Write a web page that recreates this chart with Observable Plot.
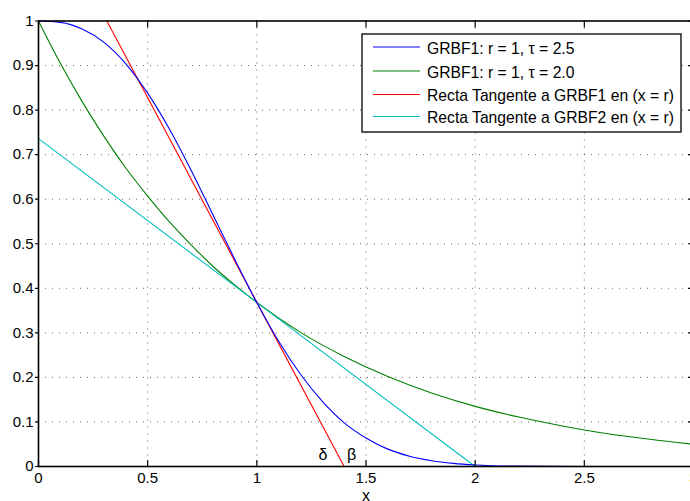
<!DOCTYPE html>
<html>
<head>
<meta charset="utf-8">
<script src="https://cdn.jsdelivr.net/npm/d3@7"></script>
<script src="https://cdn.jsdelivr.net/npm/@observablehq/plot@0.6"></script>
<style>
  html, body { margin: 0; padding: 0; background: #fff; overflow: hidden; }
  #chart { position: relative; width: 690px; height: 501px; overflow: hidden; }
  #chart svg { position: absolute; left: 0; top: 0; }
</style>
</head>
<body>
<div id="chart"></div>
<script>
// GRBF curves, r = 1
const blueX = [0, 0.1, 0.2, 0.3, 0.4, 0.5, 0.6, 0.7, 0.8, 0.9, 1.0, 1.1, 1.2, 1.3, 1.4, 1.5, 1.6, 1.7, 1.8, 1.9, 2.0, 2.2, 2.5, 3.0];
const blueY = [1, 0.997, 0.982, 0.952, 0.904, 0.838, 0.757, 0.664, 0.564, 0.464, 0.368, 0.281, 0.207, 0.146, 0.098, 0.064, 0.039, 0.023, 0.013, 0.007, 0.0035, 0.0008, 0.0001, 0];

const greenX = [0, 0.1, 0.2, 0.3, 0.4, 0.5, 0.6, 0.7, 0.8, 0.9, 1.0, 1.2, 1.4, 1.6, 1.8, 2.0, 2.2, 2.4, 2.6, 2.8, 3.0];
const greenY = [1, 0.905, 0.819, 0.741, 0.670, 0.607, 0.549, 0.497, 0.449, 0.407, 0.368, 0.301, 0.247, 0.202, 0.165, 0.135, 0.111, 0.091, 0.074, 0.061, 0.050];

// tangent lines at x = r
const redX = [0.313, 1.4];
const redY = [1, 0];
const cyanX = [0, 2];
const cyanY = [0.736, 0];

// axis ticks
const xTicks = [0, 0.5, 1, 1.5, 2, 2.5, 3];
const yTicks = [0, 0.1, 0.2, 0.3, 0.4, 0.5, 0.6, 0.7, 0.8, 0.9, 1];

// annotation letters near the x axis
const noteText = ["δ", "β"];
const noteX = [1.303, 1.434];
const noteY = [0.027, 0.027];

const legendLabels = [
  "GRBF1: r = 1, τ = 2.5",
  "GRBF1: r = 1, τ = 2.0",
  "Recta Tangente a GRBF1 en (x = r)",
  "Recta Tangente a GRBF2 en (x = r)"
];
const colors = ["#0000ff", "#008000", "#ff0000", "#00bfbf"];

const toPts = (xs, ys) => xs.map((x, i) => ({x, y: ys[i]}));
const blue = toPts(blueX, blueY);
const green = toPts(greenX, greenY);
const red = toPts(redX, redY);
const cyan = toPts(cyanX, cyanY);
const notes = noteText.map((t, i) => ({t, x: noteX[i], y: noteY[i]}));

const font = "'Liberation Sans', Arial, Helvetica, sans-serif";
const tickShape = { draw(ctx, l) { ctx.moveTo(0, 0); ctx.lineTo(0, -l); } };
const grid = {stroke: "#555", strokeOpacity: 0.9, strokeWidth: 1, strokeDasharray: "1,6"};

const chart = Plot.plot({
  width: 696,
  height: 501,
  marginLeft: 38,
  marginRight: 3,
  marginTop: 20.5,
  marginBottom: 35,
  style: {fontFamily: font, fontSize: "14px", background: "#fff", color: "#000"},
  x: {domain: [0, 3], axis: null},
  y: {domain: [0, 1], axis: null},
  marks: [
    Plot.ruleX(xTicks.slice(1, -1), grid),
    Plot.ruleY(yTicks.slice(1, -1), grid),
    Plot.line(green, {x: "x", y: "y", stroke: colors[1], strokeWidth: 1.1, curve: "monotone-x"}),
    Plot.line(cyan, {x: "x", y: "y", stroke: colors[3], strokeWidth: 1.1}),
    Plot.line(red, {x: "x", y: "y", stroke: colors[2], strokeWidth: 1.1}),
    Plot.line(blue, {x: "x", y: "y", stroke: colors[0], strokeWidth: 1.1, curve: "monotone-x"}),
    Plot.frame({stroke: "#000", strokeWidth: 1.6}),
    // inward ticks on bottom and top, outward on left, inward on right
    Plot.vector(xTicks, {x: d => d, frameAnchor: "bottom", length: 6, anchor: "start", shape: tickShape, stroke: "#000", strokeWidth: 1.2}),
    Plot.vector(xTicks, {x: d => d, frameAnchor: "top", rotate: 180, length: 6, anchor: "start", shape: tickShape, stroke: "#000", strokeWidth: 1.2}),
    Plot.vector(yTicks, {y: d => d, frameAnchor: "left", rotate: -90, length: 3, anchor: "start", shape: tickShape, stroke: "#000", strokeWidth: 1.2}),
    Plot.vector(yTicks, {y: d => d, frameAnchor: "right", rotate: -90, length: 5, anchor: "start", shape: tickShape, stroke: "#000", strokeWidth: 1.2}),
    Plot.axisX(xTicks, {tickSize: 0, tickPadding: 6, fontSize: 15, label: null, tickFormat: d => String(d)}),
    Plot.axisY(yTicks, {tickSize: 0, tickPadding: 5, fontSize: 15, label: null, tickFormat: d => String(d)}),
    Plot.text(["x"], {frameAnchor: "bottom", dy: 29, fontSize: 16, lineAnchor: "middle"}),
    Plot.text(notes, {x: "x", y: "y", text: "t", fontSize: 16, lineAnchor: "middle"})
  ]
});
chart.style.maxWidth = "none";
const host = document.getElementById("chart");
host.appendChild(chart);

// legend box
const lg = d3.select(host).append("svg")
  .attr("width", 690).attr("height", 501)
  .style("pointer-events", "none");
const box = lg.append("g").attr("transform", "translate(362,34)");
box.append("rect").attr("x", 0).attr("y", 0).attr("width", 319).attr("height", 98)
  .attr("fill", "#fff").attr("stroke", "#000").attr("stroke-width", 1.3);
const rowY = [14.5, 38.5, 62, 84];
legendLabels.forEach((label, i) => {
  box.append("line").attr("x1", 11).attr("x2", 58).attr("y1", rowY[i] - 1.5).attr("y2", rowY[i] - 1.5)
    .attr("stroke", colors[i]).attr("stroke-width", 1.1);
  box.append("text").attr("x", 65).attr("y", rowY[i]).attr("dy", "0.35em")
    .attr("font-family", font).attr("font-size", 15.7).attr("fill", "#000").text(label);
});
</script>
</body>
</html>
